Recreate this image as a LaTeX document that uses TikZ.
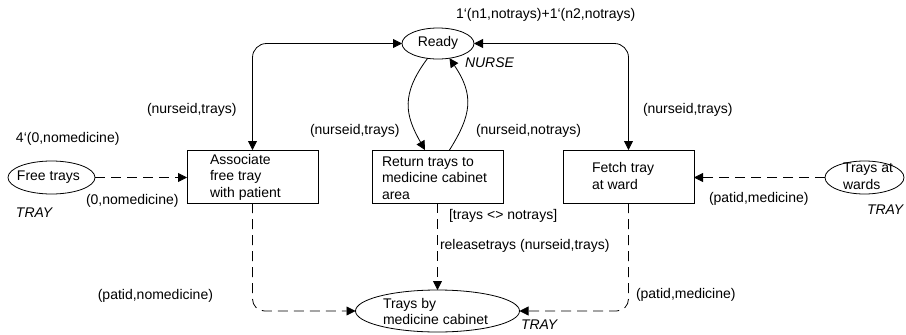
\documentclass[tikz,border=0pt]{standalone}
\usepackage{fontspec}
\setmainfont{Liberation Sans}
\usetikzlibrary{arrows.meta,shapes.geometric}

\begin{document}
\begin{tikzpicture}[x=1pt,y=-1pt,
  >={Triangle[length=9pt,width=9pt]},
  every node/.style={font=\fontsize{14}{16.5}\selectfont, inner sep=0pt, outer sep=0pt},
  place/.style={draw, ellipse, line width=0.8pt},
  trans/.style={draw, rectangle, line width=0.8pt, minimum width=131pt, minimum height=53pt},
  txt/.style={anchor=west, align=left},
  ctxt/.style={align=center},
  lbl/.style={anchor=west},
  typ/.style={anchor=west, font=\fontsize{14}{16.5}\selectfont\itshape},
  arc/.style={line width=0.8pt, ->},
  darc/.style={arc, dash pattern=on 10pt off 6pt},
]
\useasboundingbox (0,0) rectangle (906,335);

% places
\node[place, minimum width=72pt, minimum height=31pt] (ready) at (438,43.5) {};
\node[place, minimum width=87pt, minimum height=33pt] (free) at (51.5,177.5) {};
\node[place, minimum width=79pt, minimum height=33pt] (wards) at (864.5,177.5) {};
\node[place, minimum width=164pt, minimum height=42pt] (cab) at (437.5,311) {};

\node[ctxt] (readyT) at (438,43) {Ready};
\node[ctxt] (freeT) at (48.5,177) {Free trays};
\node[txt] (wardsT) at (843,176) {Trays at\\wards};
\node[txt] (cabT) at (383,311.5) {Trays by\\medicine cabinet};

% transitions
\node[trans] (assoc) at (252.5,176.5) {};
\node[trans] (ret) at (437.5,176.5) {};
\node[trans] (fetch) at (628.5,176.5) {};

\node[txt] (assocT) at (210,177) {Associate\\free tray\\with patient};
\node[txt] (retT) at (382,178) {Return trays to\\medicine cabinet\\area};
\node[txt] (fetchT) at (592,176) {Fetch tray\\at ward};

% arcs to and from Ready
\draw[arc, <->, rounded corners=14pt] (assoc.north) |- (ready.west);
\draw[arc, <->, rounded corners=14pt] (fetch.north) |- (ready.east);
\draw[arc] (ready.235) .. controls +(-27,36) and +(-20,-35) .. ([xshift=-12.5pt]ret.north);
\draw[arc] ([xshift=12pt]ret.north) .. controls +(22,-35) and +(25,37) .. (ready.308);

% tray arcs
\draw[darc] (free.east) -- (free.east -| assoc.west);
\draw[darc] (wards.west) -- (wards.west -| fetch.east);
\draw[darc, rounded corners=12pt] (assoc.south) |- (cab.west);
\draw[darc] (ret.south) -- (cab.north);
\draw[darc, rounded corners=12pt] (fetch.south) |- (cab.east);

% inscriptions
\node[lbl] (init1) at (456,15) {1‘(n1,notrays)+1‘(n2,notrays)};
\node[typ] (nurse) at (465,63) {NURSE};
\node[lbl] (e1) at (147,110) {(nurseid,trays)};
\node[lbl] (e2) at (643,110) {(nurseid,trays)};
\node[lbl] (e3) at (310,131) {(nurseid,trays)};
\node[lbl] (e4) at (476,131) {(nurseid,notrays)};
\node[lbl] (init2) at (16,139) {4‘(0,nomedicine)};
\node[lbl] (e5) at (86,201) {(0,nomedicine)};
\node[typ] (tray1) at (16,213) {TRAY};
\node[lbl] (e6) at (709,199) {(patid,medicine)};
\node[typ] (tray2) at (867,210) {TRAY};
\node[lbl] (guard) at (449,216) {[trays <> notrays]};
\node[lbl] (e7) at (440,246) {releasetrays (nurseid,trays)};
\node[anchor=east] (e8) at (213,296) {(patid,nomedicine)};
\node[lbl] (e9) at (636,295) {(patid,medicine)};
\node[typ] (tray3) at (521,325) {TRAY};
\end{tikzpicture}
\end{document}
